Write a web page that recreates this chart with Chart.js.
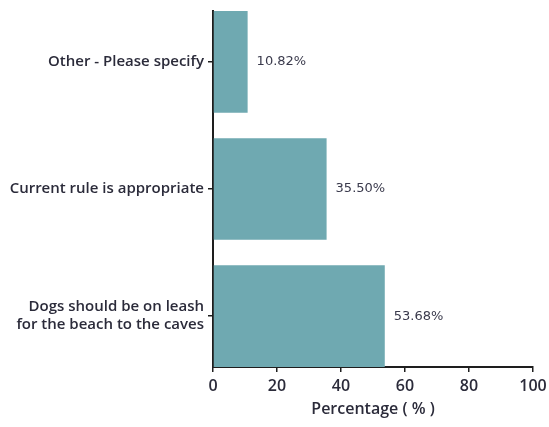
<!DOCTYPE html>
<html>
<head>
<meta charset="utf-8">
<script src="https://cdn.jsdelivr.net/npm/chart.js@4"></script>
<style>
  html, body { margin: 0; padding: 0; background: #fff; }
  #wrap { width: 549px; height: 427px; }
</style>
</head>
<body>
<div id="wrap"><canvas id="chart"></canvas></div>
<script>
// Survey answers, top to bottom
var categories = [
    ['Other - Please specify'],
    ['Current rule is appropriate'],
    ['Dogs should be on leash', 'for the beach to the caves']
];
var percentages = [10.82, 35.50, 53.68];
var xTicks = [0, 20, 40, 60, 80, 100];

var textColor = '#2b2b3a';
var axisColor = '#1e1e1e';
var barColor = '#6fa9b1';

// Writes "xx.xx%" just right of each bar
var valueLabels = {
    id: 'valueLabels',
    afterDatasetsDraw: function(chart) {
        var ctx = chart.ctx;
        var meta = chart.getDatasetMeta(0);
        ctx.save();
        ctx.font = '13px "DejaVu Sans"';
        ctx.fillStyle = '#3a3a4c';
        ctx.textAlign = 'left';
        ctx.textBaseline = 'middle';
        meta.data.forEach(function(bar, i) {
            ctx.fillText(percentages[i].toFixed(2) + '%', bar.x + 9, bar.y);
        });
        ctx.restore();
    }
};

var points = percentages.map(function(v, i) { return { x: v, y: i }; });

var ctx = document.getElementById('chart').getContext('2d');
var chart = new Chart(ctx, {
    type: 'bar',
    data: {
        datasets: [{
            label: 'Percentage',
            data: points,
            backgroundColor: barColor,
            borderWidth: 0,
            categoryPercentage: 0.8,
            barPercentage: 1
        }]
    },
    options: {
        indexAxis: 'y',
        responsive: true,
        maintainAspectRatio: false,
        animation: false,
        layout: { padding: { top: 11, right: 16, bottom: 0, left: 0 } },
        plugins: {
            legend: { display: false },
            tooltip: { enabled: false }
        },
        scales: {
            x: {
                type: 'linear',
                min: 0,
                max: 100,
                afterBuildTicks: function(scale) {
                    scale.ticks = xTicks.map(function(v) { return { value: v }; });
                },
                afterFit: function(scale) {
                    scale.height = 60;
                    scale.paddingLeft = 0;
                    scale.paddingRight = 0;
                },
                border: { color: axisColor, width: 2 },
                grid: { drawOnChartArea: false, drawTicks: true, tickLength: 5, color: axisColor, lineWidth: 1.5 },
                ticks: {
                    padding: 5,
                    color: textColor,
                    maxRotation: 0,
                    font: { family: '"Open Sans"', size: 16, weight: '600' }
                },
                title: {
                    display: true,
                    text: 'Percentage ( % )',
                    color: textColor,
                    padding: { top: 2, bottom: 8 },
                    font: { family: '"Open Sans"', size: 16, weight: '600' }
                }
            },
            y: {
                type: 'linear',
                reverse: true,
                offset: false,
                min: -0.4,
                max: 2.4,
                afterBuildTicks: function(scale) {
                    scale.ticks = categories.map(function(c, i) { return { value: i }; });
                },
                afterFit: function(scale) {
                    scale.width = 213;
                    scale.paddingTop = 0;
                    scale.paddingBottom = 0;
                },
                border: { color: axisColor, width: 2 },
                grid: { offset: false, drawOnChartArea: false, drawTicks: true, tickLength: 5, color: axisColor, lineWidth: 1.5 },
                ticks: {
                    padding: 4,
                    color: textColor,
                    autoSkip: false,
                    font: { family: '"Open Sans"', size: 15, weight: '600', lineHeight: 1.2 },
                    callback: function(value) {
                        return categories[value] || '';
                    }
                }
            }
        }
    },
    plugins: [valueLabels]
});
</script>
</body>
</html>
